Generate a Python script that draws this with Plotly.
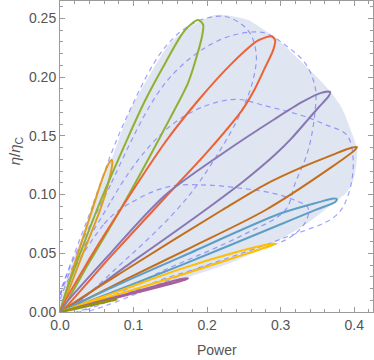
import plotly.graph_objects as go

# light region covered by all cycles (outline)
shade_power = [0, 0.0435, 0.0707, 0.0952, 0.125, 0.1497, 0.1769, 0.1905, 0.2109, 0.2245, 0.2558, 0.2789,
               0.30, 0.3238, 0.35, 0.3701, 0.3837, 0.3973, 0.4041, 0.4027, 0.3986, 0.390, 0.3764, 0.336,
               0.2925, 0.234, 0.1741, 0.09, 0]
shade_eff = [0, 0.0866, 0.131, 0.1718, 0.205, 0.2289, 0.2425, 0.2476, 0.2527, 0.2527, 0.2485, 0.2395,
             0.2295, 0.2155, 0.1995, 0.1855, 0.173, 0.1515, 0.1377, 0.125, 0.112, 0.102, 0.095, 0.0756,
             0.0594, 0.0423, 0.0296, 0.0152, 0]

# dashed loops
dash1_power = [0, 0.045, 0.09, 0.143, 0.184, 0.2245, 0.2558, 0.2667, 0.2626, 0.2476, 0.215, 0.17, 0.09, 0]
dash1_eff = [0, 0.092, 0.165, 0.2255, 0.2465, 0.2515, 0.2395, 0.22, 0.198, 0.172, 0.135, 0.095, 0.045, 0]

dash2_power = [0, 0.07, 0.1429, 0.2, 0.245, 0.2789, 0.3061, 0.3333, 0.3469, 0.3469, 0.3374, 0.3197, 0.3061,
               0.25, 0.15, 0]
dash2_eff = [0, 0.11, 0.1947, 0.226, 0.237, 0.2374, 0.2272, 0.2118, 0.1913, 0.1718, 0.1377, 0.1096, 0.0866,
             0.066, 0.038, 0]

dash3_power = [0, 0.07, 0.12, 0.16, 0.2, 0.24, 0.279, 0.33, 0.3605, 0.39, 0.3986, 0.392, 0.375, 0.3, 0.2, 0]
dash3_eff = [0, 0.095, 0.14, 0.163, 0.176, 0.181, 0.1755, 0.167, 0.1595, 0.1505, 0.1292, 0.1, 0.082, 0.062,
             0.04, 0]

dash4_power = [0, 0.06, 0.105, 0.15, 0.2, 0.25, 0.29, 0.32, 0.337, 0.335, 0.313, 0.25, 0.15, 0]
dash4_eff = [0, 0.075, 0.096, 0.107, 0.108, 0.105, 0.101, 0.095, 0.089, 0.078, 0.0636, 0.049, 0.03, 0]

# solid cycles
orange_power = [0, 0.022, 0.0435, 0.058, 0.066, 0.0705, 0.0712, 0.065, 0.0544, 0.03, 0]
orange_eff = [0, 0.045, 0.0866, 0.114, 0.126, 0.1295, 0.127, 0.108, 0.0866, 0.048, 0]

green_power = [0, 0.05, 0.09, 0.1157, 0.143, 0.17, 0.1878, 0.1946, 0.1935, 0.187, 0.1741, 0.1497, 0.12,
               0.0816, 0.04, 0]
green_eff = [0, 0.0866, 0.145, 0.180, 0.2118, 0.240, 0.2485, 0.2445, 0.236, 0.220, 0.195, 0.165, 0.13,
             0.0866, 0.0425, 0]

red_power = [0, 0.04, 0.0816, 0.143, 0.1878, 0.234, 0.2694, 0.288, 0.2925, 0.2898, 0.279, 0.265, 0.2476,
             0.2, 0.1429, 0.07, 0]
red_eff = [0, 0.045, 0.0866, 0.1445, 0.180, 0.2118, 0.2311, 0.2345, 0.231, 0.2229, 0.2084, 0.19, 0.1718,
           0.136, 0.0975, 0.048, 0]

purple_power = [0, 0.07, 0.1429, 0.22, 0.2925, 0.33, 0.355, 0.3673, 0.365, 0.352, 0.3374, 0.315, 0.2925,
                0.25, 0.197, 0.1, 0]
purple_eff = [0, 0.051, 0.0994, 0.1345, 0.1645, 0.179, 0.1865, 0.1872, 0.1835, 0.1745, 0.164, 0.148, 0.134,
              0.1115, 0.0866, 0.0435, 0]

dorange_power = [0, 0.1, 0.22, 0.2789, 0.33, 0.3696, 0.392, 0.4036, 0.401, 0.3696, 0.2789, 0.18, 0.09, 0]
dorange_eff = [0, 0.040, 0.0866, 0.1085, 0.1235, 0.1335, 0.139, 0.1405, 0.138, 0.1235, 0.0866, 0.0555, 0.028, 0]

lblue_power = [0, 0.08, 0.1633, 0.2993, 0.3518, 0.3718, 0.3764, 0.3741, 0.35, 0.2993, 0.1633, 0.08, 0]
lblue_eff = [0, 0.0235, 0.0465, 0.0838, 0.0935, 0.0966, 0.096, 0.0937, 0.0875, 0.0745, 0.0395, 0.019, 0]

yellow_power = [0, 0.08, 0.1633, 0.24, 0.28, 0.2925, 0.288, 0.24, 0.1633, 0.08, 0]
yellow_eff = [0, 0.0178, 0.0365, 0.051, 0.0572, 0.0583, 0.0568, 0.0468, 0.0313, 0.0152, 0]

magenta_power = [0, 0.09, 0.165, 0.1741, 0.17, 0.09, 0]
magenta_eff = [0, 0.0152, 0.028, 0.0287, 0.0275, 0.0142, 0]

olive_power = [0, 0.04, 0.075, 0.0771, 0.074, 0.04, 0]
olive_eff = [0, 0.0058, 0.0109, 0.0108, 0.0102, 0.0053, 0]

dashed = [
    (dash1_power, dash1_eff),
    (dash2_power, dash2_eff),
    (dash3_power, dash3_eff),
    (dash4_power, dash4_eff),
]

cycles = [
    (orange_power, orange_eff, "#E19C24"),
    (green_power, green_eff, "#8FB032"),
    (red_power, red_eff, "#EB6235"),
    (purple_power, purple_eff, "#8778B3"),
    (dorange_power, dorange_eff, "#C56E1A"),
    (lblue_power, lblue_eff, "#5D9EC7"),
    (yellow_power, yellow_eff, "#FFBF00"),
    (magenta_power, magenta_eff, "#A5609D"),
    (olive_power, olive_eff, "#929600"),
]

fig = go.Figure()

# shaded region
fig.add_trace(go.Scatter(
    x=shade_power, y=shade_eff, mode="lines", fill="toself",
    fillcolor="rgb(223,229,241)", line=dict(width=0, shape="spline", smoothing=0.6),
    hoverinfo="skip",
))

for p, e in dashed:
    fig.add_trace(go.Scatter(
        x=p, y=e, mode="lines",
        line=dict(color="rgba(100,100,255,0.6)", width=1.2, dash="5px,4px", shape="spline"),
        hoverinfo="skip",
    ))

for p, e, c in cycles:
    fig.add_trace(go.Scatter(
        x=p, y=e, mode="lines",
        line=dict(color=c, width=2, shape="spline", smoothing=0.8),
    ))

axis_style = dict(
    showgrid=False, zeroline=False, showline=True, linecolor="#9a9a9a", linewidth=1,
    mirror="ticks", ticks="inside", ticklen=5, tickcolor="#9a9a9a",
    tickfont=dict(size=14, color="#555555"),
)

fig.update_layout(
    width=374, height=360,
    margin=dict(l=60, r=1, t=1, b=48),
    plot_bgcolor="white", paper_bgcolor="white",
    showlegend=False,
    font=dict(family="Liberation Sans, Arial, sans-serif", size=14, color="#555555"),
    xaxis=dict(range=[0, 0.4255], dtick=0.1, tickformat=".1f",
               minor=dict(ticks="inside", ticklen=3, dtick=0.02, tickcolor="#9a9a9a"),
               **axis_style),
    yaxis=dict(range=[0, 0.2647], dtick=0.05, tickformat=".2f",
               minor=dict(ticks="inside", ticklen=3, dtick=0.01, tickcolor="#9a9a9a"),
               **axis_style),
    annotations=[
        dict(text="Power", xref="paper", yref="paper", x=0.5016, y=-0.123,
             xanchor="center", yanchor="middle", showarrow=False,
             font=dict(size=14, color="#555555")),
        dict(text="<i>η</i>/<i>η</i><sub>C</sub>", xref="paper", yref="paper", x=-0.144, y=0.52,
             xanchor="center", yanchor="middle", showarrow=False, textangle=-90,
             font=dict(size=15, color="#555555")),
    ],
)

# drop the page's default body margin so the figure sits at the window corner
fig.write_html("out.html", config={"displayModeBar": False},
               post_script="document.body.style.margin='0px';")
